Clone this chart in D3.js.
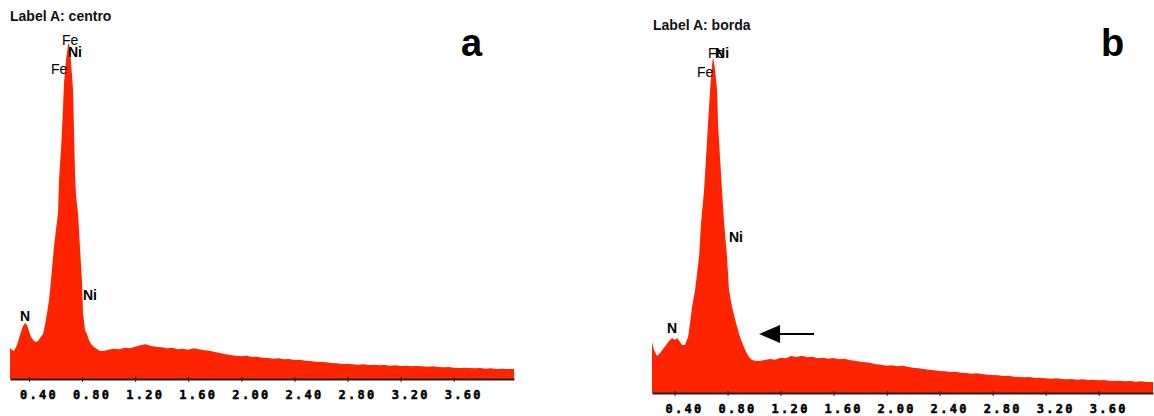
<!DOCTYPE html>
<html>
<head>
<meta charset="utf-8">
<script src="https://cdn.jsdelivr.net/npm/d3@7"></script>
<style>
  body { margin: 0; background: #fff; }
  svg { display: block; }
</style>
</head>
<body>
<svg id="chart" width="1154" height="416"></svg>
<script>
// EDS spectra, energy in keV, counts (normalised to the main Fe/Ni peak)
const energyA = [0.257,0.272,0.287,0.310,0.332,0.355,0.370,0.385,0.400,0.415,
  0.438,0.453,0.468,0.483,0.506,0.521,0.536,0.551,0.566,0.588,
  0.603,0.619,0.626,0.641,0.649,0.664,0.679,0.694,0.701,0.709,
  0.724,0.732,0.739,0.747,0.754,0.762,0.769,0.777,0.784,0.792,
  0.799,0.807,0.822,0.837,0.852,0.867,0.890,0.912,0.935,
  0.96,1.00,1.04,1.08,1.12,1.16,1.20,1.24,1.28,1.32,1.36,1.40,1.44,1.48,1.52,1.56,1.60,1.64,1.68,1.72,
  1.76,1.80,1.84,1.88,1.92,1.96,2.00,2.04,2.08,2.12,2.16,2.20,2.24,2.28,2.32,2.36,2.40,2.44,2.48,2.52,
  2.56,2.60,2.64,2.68,2.72,2.76,2.80,2.84,2.88,2.92,2.96,3.00,3.04,3.08,3.12,3.16,3.20,3.24,3.28,3.32,
  3.36,3.40,3.44,3.48,3.52,3.56,3.60,3.64,3.68,3.72,3.76,3.80,3.84,3.88,3.92,3.96,4.00,4.055];
const countsA = [93,87,84,102,132,159,168,162,144,126,
  114,111,114,123,135,162,198,237,297,396,
  447,498,597,687,747,888,957,1002,1008,987,
  912,867,747,612,552,522,498,447,396,342,
  297,198,147,135,117,105,96,90,84,
  84,88,91,89,94,92,97,101,104,99,97,95,92,94,89,91,88,92,89,86,
  85,81,78,74,72,70,68,70,66,67,64,63,61,62,59,60,57,58,55,54,
  52,51,50,48,47,45,46,44,43,44,42,43,41,42,40,41,39,40,38,39,
  38,37,38,36,35,36,34,33,34,33,32,33,31,32,30,31,30,30];

const energyB = [0.230,0.245,0.268,0.291,0.313,0.336,0.358,0.381,0.404,0.419,
  0.442,0.457,0.479,0.502,0.517,0.532,0.555,0.585,0.600,0.623,
  0.638,0.653,0.668,0.683,0.691,0.706,0.721,0.728,0.743,0.758,
  0.774,0.796,0.811,0.834,0.864,0.894,0.917,0.940,0.962,0.985,1.015,
  1.04,1.08,1.12,1.16,1.20,1.24,1.28,1.32,1.36,1.40,1.44,1.48,1.52,1.56,1.60,1.64,1.68,1.72,1.76,1.80,
  1.84,1.88,1.92,1.96,2.00,2.04,2.08,2.12,2.16,2.20,2.24,2.28,2.32,2.36,2.40,2.44,2.48,2.52,2.56,2.60,
  2.64,2.68,2.72,2.76,2.80,2.84,2.88,2.92,2.96,3.00,3.04,3.08,3.12,3.16,3.20,3.24,3.28,3.32,3.36,3.40,
  3.44,3.48,3.52,3.56,3.60,3.64,3.68,3.72,3.76,3.80,3.84,3.88,3.92,3.96,4.01];
const countsB = [153,129,111,120,132,144,156,165,159,165,
  153,144,144,168,210,258,309,408,510,609,
  708,810,909,984,1008,969,909,810,708,609,
  510,408,309,258,210,168,144,123,108,99,96,
  96,99,102,100,106,104,111,108,112,107,109,104,106,103,105,101,103,99,97,94,
  92,90,86,85,82,83,80,82,79,76,74,72,70,68,66,65,63,64,61,60,
  58,59,57,55,54,53,51,52,49,48,47,48,45,46,44,43,44,42,41,42,
  40,41,39,40,38,39,37,36,37,35,36,34,35,33,33];

const tickValues = [0.40, 0.80, 1.20, 1.60, 2.00, 2.40, 2.80, 3.20, 3.60];

// peak labels: text, energy, count of the label anchor
const peakTextA = ["Fe", "Ni", "Fe", "Ni", "N"];
const peakEnergyA = [0.649, 0.694, 0.566, 0.807, 0.332];
const peakCountA = [1002, 966, 915, 237, 174];

const peakTextB = ["Fe", "Ni", "Fe", "Ni", "N"];
const peakEnergyB = [0.653, 0.706, 0.570, 0.811, 0.343];
const peakCountB = [1005, 1005, 948, 453, 180];

// arrow in panel b: from, to (energy) at a count level
const arrowB = { from: 1.453, to: 1.038, count: 177 };

const panels = [
  { letter: "a", title: "Label A: centro", energy: energyA, counts: countsA,
    peakText: peakTextA, peakEnergy: peakEnergyA, peakCount: peakCountA,
    left: 10, right: 514, base: 379, top: 43, domain: [0.257, 4.054],
    titleX: 10, titleY: 21, letterX: 461, letterY: 56 },
  { letter: "b", title: "Label A: borda", energy: energyB, counts: countsB,
    peakText: peakTextB, peakEnergy: peakEnergyB, peakCount: peakCountB,
    left: 652, right: 1153, base: 393, top: 57, domain: [0.23, 4.01],
    titleX: 653, titleY: 30, letterX: 1101, letterY: 56, arrow: arrowB }
];

const svg = d3.select("#chart");
const red = "#ff2400";

panels.forEach(p => {
  const data = p.energy.map((e, i) => ({ e: e, c: p.counts[i] }));
  const g = svg.append("g");

  const x = d3.scaleLinear().domain(p.domain).range([p.left, p.right]);
  const y = d3.scaleLinear().domain([0, d3.max(p.counts)]).range([p.base, p.top]);

  // spectrum fill
  const area = d3.area()
    .x(d => x(d.e))
    .y0(p.base)
    .y1(d => y(d.c));

  g.append("path")
    .datum(data)
    .attr("d", area)
    .attr("fill", red);

  // energy axis
  const axis = g.append("g")
    .attr("transform", `translate(0,${p.base})`)
    .call(d3.axisBottom(x)
      .tickValues(tickValues)
      .tickFormat(d3.format(".2f"))
      .tickSize(3)
      .tickSizeOuter(0));

  axis.select(".domain")
    .attr("stroke", "#222")
    .attr("stroke-width", 2);
  axis.selectAll(".tick line")
    .attr("y1", -2)
    .attr("stroke", "#222")
    .attr("stroke-width", 1);
  axis.selectAll(".tick text")
    .attr("text-anchor", "start")
    .attr("x", -9.5)
    .attr("y", 20)
    .attr("dy", 0)
    .attr("fill", "#000")
    .attr("stroke", "#000")
    .attr("stroke-width", 0.5)
    .style("font-family", "'DejaVu Sans Mono', monospace")
    .style("font-weight", "bold")
    .style("font-size", "12px")
    .style("letter-spacing", "2.3px");

  // title
  g.append("text")
    .attr("x", p.titleX)
    .attr("y", p.titleY)
    .text(p.title)
    .style("font-family", "'Liberation Sans', Arial, sans-serif")
    .style("font-weight", "bold")
    .style("font-size", "14px")
    .attr("fill", "#111");

  // panel letter
  g.append("text")
    .attr("x", p.letterX)
    .attr("y", p.letterY)
    .text(p.letter)
    .style("font-family", "'Liberation Sans', Arial, sans-serif")
    .style("font-weight", "bold")
    .style("font-size", "38px")
    .attr("fill", "#000");

  // peak labels
  p.peakText.forEach((t, i) => {
    g.append("text")
      .attr("x", x(p.peakEnergy[i]))
      .attr("y", y(p.peakCount[i]))
      .text(t)
      .style("font-family", "'Liberation Sans', Arial, sans-serif")
      .style("font-weight", t === "Fe" ? "normal" : "bold")
      .style("font-size", "14px")
      .attr("fill", "#000");
  });

  // arrow
  if (p.arrow) {
    const ax0 = x(p.arrow.from), ax1 = x(p.arrow.to), ay = y(p.arrow.count);
    g.append("line")
      .attr("x1", ax0).attr("x2", ax1 + 18)
      .attr("y1", ay).attr("y2", ay)
      .attr("stroke", "#000")
      .attr("stroke-width", 2);
    g.append("path")
      .attr("d", `M${ax1},${ay} L${ax1 + 21},${ay - 9} L${ax1 + 21},${ay + 9} Z`)
      .attr("fill", "#000");
  }
});
</script>
</body>
</html>
